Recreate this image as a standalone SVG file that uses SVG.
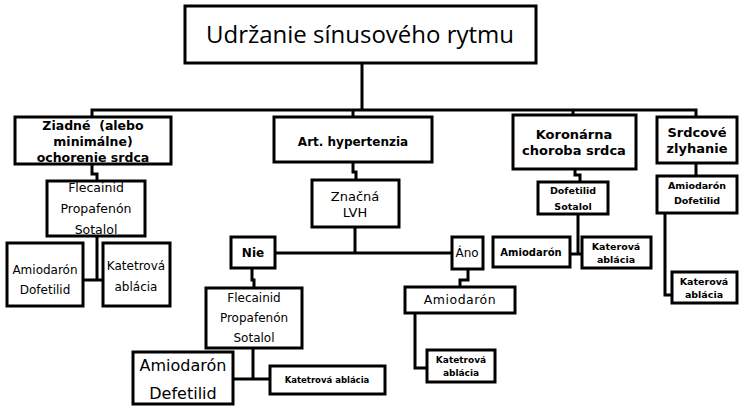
<svg xmlns="http://www.w3.org/2000/svg" width="739" height="408" viewBox="0 0 739 408">
<style>
.box{fill:#fff;stroke:#000;stroke-width:3}
.con{fill:none;stroke:#000;stroke-width:3}
text{font-family:"DejaVu Sans","Liberation Sans",sans-serif;fill:#000;text-anchor:middle}
.title{font-family:"Open Sans","Liberation Sans",sans-serif;font-size:24px}
.b{font-weight:bold}
.pre{white-space:pre}
</style>
<rect width="739" height="408" fill="#fff"/>
<g id="connectors">
<path class="con" d="M362,63 V110"/>
<path class="con" d="M92,117 V110 H696 V117"/>
<path class="con" d="M353,110 V117 M573,110 V115"/>
<path class="con" d="M92,164 V174 H97 V181"/>
<path class="con" d="M97,236 V280 M83,280 H103"/>
<path class="con" d="M353,162 V172 H356 V180"/>
<path class="con" d="M355,227 V253 M275,253 H452"/>
<path class="con" d="M252,268 V280 H254 V288"/>
<path class="con" d="M253,348 V379 M233,379 H270"/>
<path class="con" d="M468,269 V280 H460 V287"/>
<path class="con" d="M415,313 V368 H427"/>
<path class="con" d="M575,169 V175 H580 V182"/>
<path class="con" d="M578,214 V254 M570,254 H582"/>
<path class="con" d="M696,163 V176"/>
<path class="con" d="M665,213 V295 H672"/>
</g>
<g id="root"><rect class="box" x="185" y="6" width="351" height="57"/><text class="title" x="360" y="43">Udržanie sínusového rytmu</text></g>
<g id="ziadne"><rect class="box" x="15" y="117" width="156" height="47"/>
<text class="b pre" font-size="12.5" x="93" y="130">Ziadné  (alebo</text>
<text class="b" font-size="12.5" x="93" y="146">minimálne)</text>
<text class="b" font-size="12.5" x="93" y="162">ochorenie srdca</text></g>
<g id="art"><rect class="box" x="274" y="117" width="158" height="45"/><text class="b" font-size="12" x="353" y="146">Art. hypertenzia</text></g>
<g id="koronarna"><rect class="box" x="513" y="115" width="123" height="54"/>
<text class="b" font-size="13" x="574" y="139">Koronárna</text><text class="b" font-size="13" x="574" y="155">choroba srdca</text></g>
<g id="srdcove"><rect class="box" x="657" y="117" width="80" height="46"/>
<text class="b" font-size="13" x="697" y="137">Srdcové</text><text class="b" font-size="13" x="697" y="153">zlyhanie</text></g>
<g id="flec1"><rect class="box" x="47" y="181" width="98" height="55"/>
<text font-size="12.5" x="96" y="192">Flecainid</text><text font-size="12.5" x="96" y="213">Propafenón</text><text font-size="12.5" x="96" y="234">Sotalol</text></g>
<g id="amio1"><rect class="box" x="7" y="243" width="76" height="63"/>
<text font-size="12" x="45" y="274">Amiodarón</text><text font-size="12" x="45" y="294">Dofetilid</text></g>
<g id="kat1"><rect class="box" x="103" y="243" width="67" height="63"/>
<text font-size="12" x="136" y="270">Katetrová</text><text font-size="12" x="136" y="291">ablácia</text></g>
<g id="lvh"><rect class="box" x="312" y="180" width="87" height="47"/>
<text font-size="13" x="355" y="201">Značná</text><text font-size="13" x="355" y="217">LVH</text></g>
<g id="nie"><rect class="box" x="231" y="237" width="44" height="31"/><text class="b" font-size="12" x="253" y="257">Nie</text></g>
<g id="ano"><rect class="box" x="452" y="237" width="31" height="32"/><text font-size="12" x="467" y="257">Áno</text></g>
<g id="flec2"><rect class="box" x="206" y="288" width="96" height="60"/>
<text font-size="12" x="254" y="302">Flecainid</text><text font-size="12" x="254" y="322">Propafenón</text><text font-size="12" x="254" y="342">Sotalol</text></g>
<g id="amio2"><rect class="box" x="133" y="352" width="100" height="52"/>
<text font-size="16" x="183" y="371">Amiodarón</text><text font-size="16" x="183" y="399">Defetilid</text></g>
<g id="kat2"><rect class="box" x="270" y="366" width="115" height="28"/><text class="b" font-size="8.5" x="327" y="383">Katetrová ablácia</text></g>
<g id="amio3"><rect class="box" x="405" y="287" width="110" height="26"/><text font-size="12.5" x="460" y="304" letter-spacing="0.5">Amiodarón</text></g>
<g id="kat3"><rect class="box" x="427" y="350" width="68" height="32"/>
<text class="b" font-size="9" x="461" y="363">Katetrová</text><text class="b" font-size="9" x="461" y="376">ablácia</text></g>
<g id="dofe"><rect class="box" x="538" y="182" width="70" height="32"/>
<text class="b" font-size="9.5" x="573" y="194">Dofetilid</text><text class="b" font-size="9.5" x="573" y="210">Sotalol</text></g>
<g id="amio4"><rect class="box" x="493" y="237" width="77" height="30"/><text class="b" font-size="10" x="531" y="256">Amiodarón</text></g>
<g id="kat4"><rect class="box" x="582" y="237" width="69" height="31"/>
<text class="b" font-size="9.5" x="616" y="250">Katerová</text><text class="b" font-size="9.5" x="616" y="263">ablácia</text></g>
<g id="amio5"><rect class="box" x="657" y="176" width="80" height="37"/>
<text class="b" font-size="9.5" x="697" y="189">Amiodarón</text><text class="b" font-size="9.5" x="697" y="204">Dofetilid</text></g>
<g id="kat5"><rect class="box" x="672" y="272" width="65" height="31"/>
<text class="b" font-size="9.5" x="704" y="285">Katerová</text><text class="b" font-size="9.5" x="704" y="298">ablácia</text></g>
</svg>
